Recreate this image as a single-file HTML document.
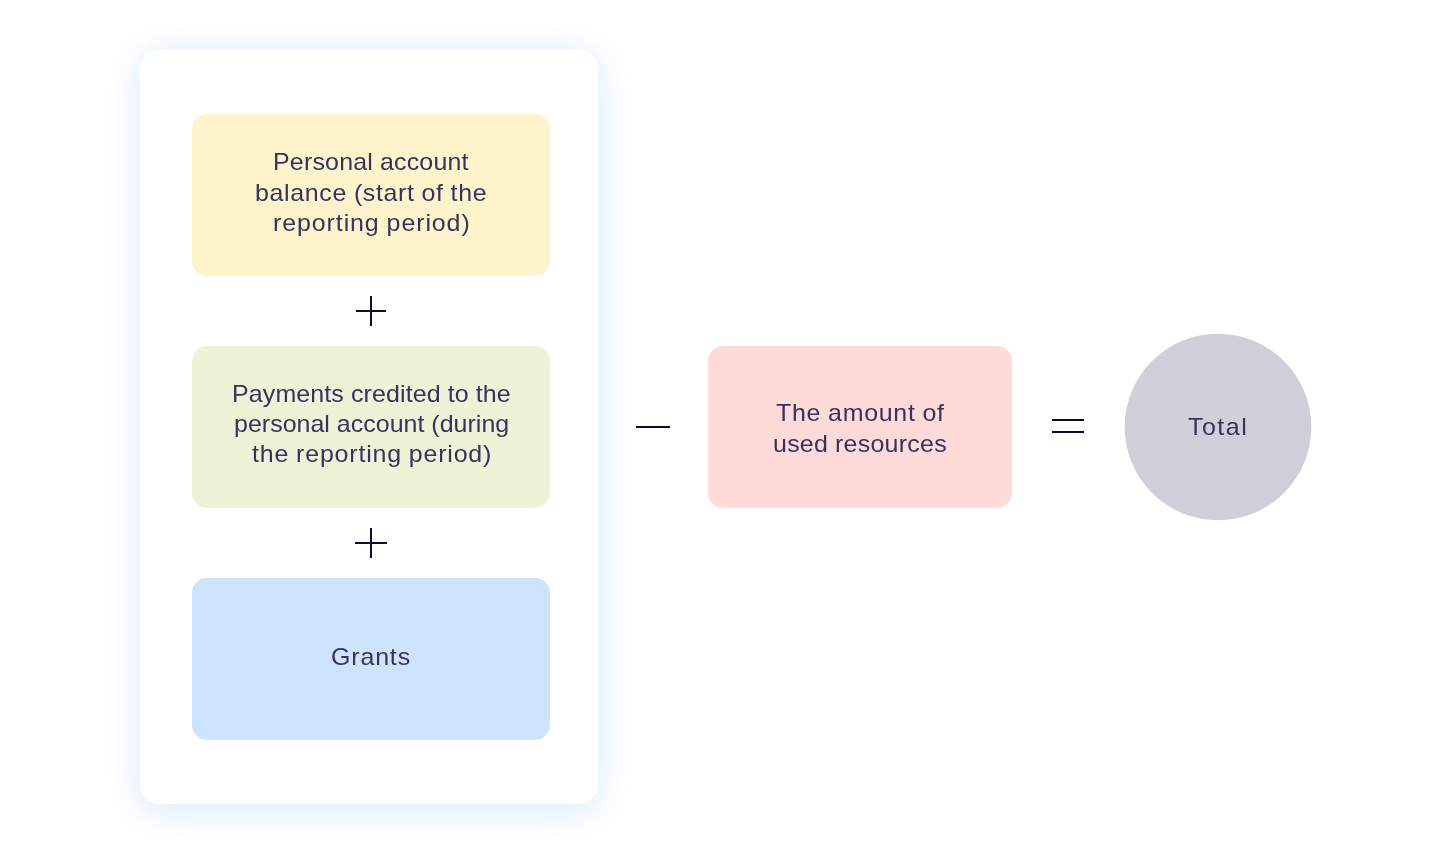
<!DOCTYPE html>
<html lang="en">
<head>
<meta charset="utf-8">
<title>Balance calculation</title>
<style>
  html, body { margin: 0; padding: 0; }
  body {
    width: 1440px; height: 856px; overflow: hidden; position: relative;
    background: #ffffff;
    font-family: "Liberation Sans", sans-serif;
    color: #37325f;
  }
  .card {
    position: absolute; left: 140px; top: 50px; width: 458px; height: 754px;
    background: #fff; border-radius: 19px;
    box-shadow: 0 5px 37px rgba(0, 122, 255, 0.17);
  }
  .box { position: absolute; border-radius: 15px; }
  .yellow { left: 192px; top: 114px; width: 358px; height: 162px; background: #fef4cc; }
  .green  { left: 192px; top: 346px; width: 358px; height: 162px; background: #edf3d6; }
  .blue   { left: 192px; top: 578px; width: 358px; height: 162px; background: #cde4fc; }
  .pink   { left: 708px; top: 346px; width: 304px; height: 162px; background: #fedad9; }
  .circle { position: absolute; left: 1100px; top: 310px; width: 240px; height: 240px; }
  .ln {
    position: absolute; white-space: nowrap;
    font-size: 24px; line-height: 30px; height: 30px;
    transform-origin: 0 0; transform: scaleX(1.04); will-change: transform;
  }
  .op { position: absolute; background: #0d0a30; }
</style>
</head>
<body>
  <div class="card"></div>
  <div class="box yellow"></div>
  <div class="ln" style="left:272.84px; top:147px; letter-spacing:0.18px; word-spacing:-0.18px;">Personal account</div>
  <div class="ln" style="left:255.34px; top:178px; letter-spacing:0.62px; word-spacing:-0.62px;">balance (start of the</div>
  <div class="ln" style="left:272.51px; top:208px; letter-spacing:0.87px; word-spacing:-0.87px;">reporting period)</div>

  <div class="op" style="left:356px; top:310px; width:30px; height:2px;"></div>
  <div class="op" style="left:370px; top:296px; width:2px; height:30px;"></div>

  <div class="box green"></div>
  <div class="ln" style="left:231.74px; top:379px; letter-spacing:0.12px; word-spacing:-0.12px;">Payments credited to the</div>
  <div class="ln" style="left:233.64px; top:409px; letter-spacing:0.02px; word-spacing:-0.02px;">personal account (during</div>
  <div class="ln" style="left:251.68px; top:439px; letter-spacing:0.78px; word-spacing:-0.78px;">the reporting period)</div>

  <div class="op" style="left:355px; top:542px; width:32px; height:2px;"></div>
  <div class="op" style="left:370px; top:528px; width:2px; height:30px;"></div>

  <div class="box blue"></div>
  <div class="ln" style="left:331.27px; top:642px; letter-spacing:0.81px; word-spacing:-0.81px;">Grants</div>

  <div class="op" style="left:636px; top:426px; width:34px; height:2px;"></div>

  <div class="box pink"></div>
  <div class="ln" style="left:775.75px; top:398px; letter-spacing:0.68px; word-spacing:-0.68px;">The amount of</div>
  <div class="ln" style="left:773.14px; top:429px; letter-spacing:0.24px; word-spacing:-0.24px;">used resources</div>

  <div class="op" style="left:1052px; top:419px; width:32px; height:2px;"></div>
  <div class="op" style="left:1052px; top:431px; width:32px; height:2px;"></div>

  <svg class="circle" width="240" height="240" viewBox="0 0 240 240"><circle cx="118" cy="117" r="93.35" fill="#d0cfd9"/></svg>
  <div class="ln" style="left:1188.46px; top:412px; letter-spacing:1.43px; word-spacing:-1.43px;">Total</div>
</body>
</html>
